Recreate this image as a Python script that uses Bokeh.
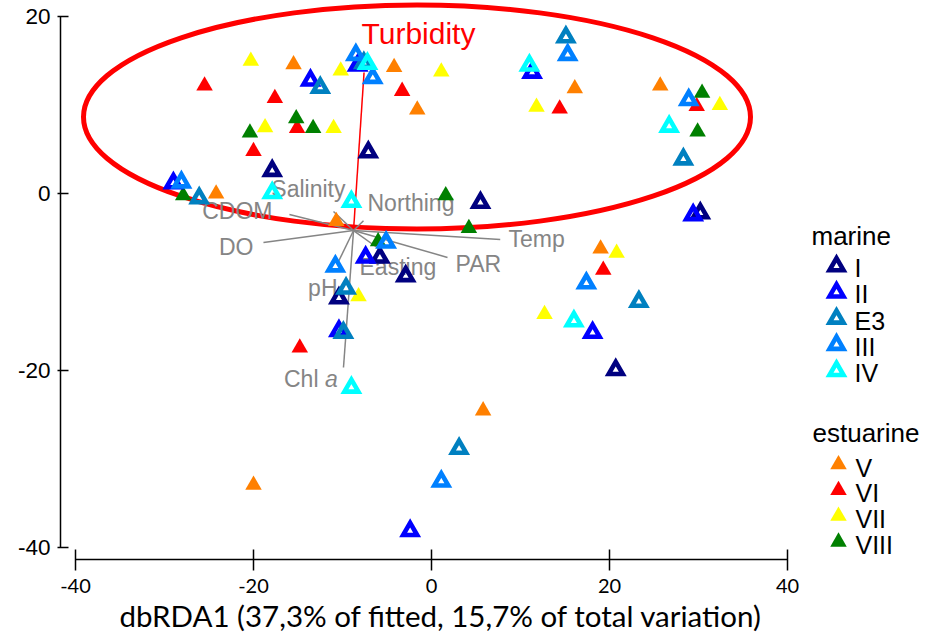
from bokeh.plotting import figure
from bokeh.models import FixedTicker, Range1d, Title
from bokeh.embed import file_html
from bokeh.resources import INLINE
from bokeh.core.properties import value

# ---------------- data: dbRDA1 / dbRDA2 scores ----------------
marine_names = ["I", "II", "E3", "III", "IV"]
estuarine_names = ["V", "VI", "VII", "VIII"]

I_x = [-17.9, -7.1, 5.5, -5.8, -2.9, -10.4, 30.2, 20.7]
I_y = [2.6, 4.7, -1.0, -7.2, -9.3, -11.8, -2.2, -19.9]
II_x = [-29.0, -13.6, -8.3, 11.3, -7.4, -10.4, 29.4, 18.1, -2.4]
II_y = [1.2, 12.8, 14.5, 13.7, -7.2, -15.5, -2.4, -15.7, -38.1]
E3_x = [-26.1, -12.5, -7.6, 15.1, 28.3, -9.6, -9.9, 23.3, 3.1]
E3_y = [-0.5, 12.0, 14.8, 17.7, 3.9, -10.7, -15.7, -12.2, -28.8]
III_x = [-28.1, -8.5, -6.6, 15.3, 28.9, -5.1, -10.8, 17.4, 1.1]
III_y = [1.3, 15.7, 13.1, 15.7, 10.6, -5.5, -8.2, -10.1, -32.5]
IV_x = [-17.9, -7.2, 11.0, 26.7, -9.0, 16.0, -9.0]
IV_y = [0.1, 14.7, 14.5, 7.6, -0.9, -14.4, -21.9]

V_x = [-24.2, -15.5, -4.2, -1.6, 16.1, 25.7, -10.7, 19.0, 5.8, -20.0]
V_y = [0.0, 14.6, 14.3, 9.5, 11.9, 12.2, -3.1, -6.2, -24.5, -32.9]
VI_x = [-25.5, -17.6, -15.1, -20.0, -3.3, 14.4, 29.8, 19.3, -14.8]
VI_y = [12.2, 10.8, 7.4, 4.8, 11.6, 9.6, 9.9, -8.6, -17.4]
VII_x = [-20.3, -18.7, -11.0, -10.2, 1.1, 11.8, 32.4, 20.8, 12.7, -8.2]
VII_y = [15.0, 7.5, 7.4, 13.9, 13.8, 9.8, 10.0, -6.7, -13.6, -11.6]
VIII_x = [-27.9, -20.4, -15.2, -13.3, 1.6, 4.2, -6.0, 30.4, 29.9]
VIII_y = [-0.2, 6.9, 8.5, 7.4, -0.2, -3.9, -5.4, 11.4, 7.0]

# environmental vectors (origin and tips, plot units)
vec_origin = (-8.76, -4.15)
vec_names = ["Turbidity", "Salinity", "Northing", "CDOM", "DO", "Temp", "PAR", "Easting", "pH", "Chl a"]
vec_x = [-7.58, -11.01, -7.64, -15.96, -18.88, 7.72, 1.80, -5.96, -10.56, -9.89]
vec_y = [13.71, -2.00, -3.04, -2.34, -5.50, -5.16, -7.19, -6.18, -7.88, -19.63]

x_ticks = [-40, -20, 0, 20, 40]
x_tick_labels = ["-40", "-20", "0", "20", "40"]
y_ticks = [-40, -20, 0, 20]
y_tick_labels = ["-40", "-20", "0", "20"]
x_title = "dbRDA1 (37,3% of fitted, 15,7% of total variation)"

# ---------------- styles ----------------
marine_colors = ["#000080", "#0000FF", "#0080C0", "#0080FF", "#00FFFF"]
estuarine_colors = ["#FF8000", "#FF0000", "#FFFF00", "#008000"]
marine_xy = [(I_x, I_y), (II_x, II_y), (E3_x, E3_y), (III_x, III_y), (IV_x, IV_y)]
estuarine_xy = [(V_x, V_y), (VI_x, VI_y), (VII_x, VII_y), (VIII_x, VIII_y)]

# pixel -> data helpers (pixel positions of the layout)
X0, SX, Y0, SY = 431.0, 8.9, 193.3, 8.85
def dx(px):
    return (px - X0) / SX
def dy(py):
    return (Y0 - py) / SY

p = figure(width=932, height=643,
           x_range=Range1d(dx(60), dx(932)), y_range=Range1d(dy(559), dy(0)),
           min_border_left=60, min_border_right=0, min_border_top=0, min_border_bottom=84,
           output_backend="svg", toolbar_location=None)
p.grid.visible = False
p.outline_line_color = None
p.background_fill_color = "white"
p.border_fill_color = "white"

# axes
xa = p.xaxis[0]
xa.ticker = FixedTicker(ticks=x_ticks)
xa.major_label_overrides = {t: s for t, s in zip(x_ticks, x_tick_labels)}
xa.bounds = (-40, 40)
xa.major_tick_in = 10
xa.major_tick_out = 11
xa.minor_tick_line_color = None
xa.axis_line_width = 1.5
xa.major_tick_line_width = 1.5
xa.axis_line_color = "black"
xa.major_tick_line_color = "black"
xa.major_label_text_font = "Lato"
xa.major_label_text_font_size = "20px"
xa.major_label_text_color = "black"
xa.major_label_standoff = 8

ya = p.yaxis[0]
ya.ticker = FixedTicker(ticks=y_ticks)
ya.major_label_overrides = {t: s for t, s in zip(y_ticks, y_tick_labels)}
ya.bounds = (-40, 20)
ya.major_tick_in = 8
ya.major_tick_out = 3
ya.minor_tick_line_color = None
ya.axis_line_width = 1.5
ya.major_tick_line_width = 1.5
ya.axis_line_color = "black"
ya.major_tick_line_color = "black"
ya.major_label_text_font = "Liberation Sans"
ya.major_label_text_font_size = "22.5px"
ya.major_label_text_color = "black"
ya.major_label_standoff = 7

# x-axis title, placed under the axis line (centred on the -40..40 span)
x_title_box = Title(text=x_title, align="left", offset=52, vertical_align="bottom", standoff=0,
                    text_font="Lato", text_font_size="29.5px", text_font_style="normal",
                    text_color="black")
try:
    x_title_box.padding = (7, 0, 0, 0)
except Exception:
    x_title_box.standoff = 8
p.add_layout(x_title_box, "below")

# Turbidity ellipse
p.ellipse(x=[dx(416.5)], y=[dy(116.5)], width=[667 / SX], height=[224 / SY],
          fill_color=None, line_color="#FF0000", line_width=5)

# vectors
ox, oy = vec_origin
gray = "#858585"
for name, vx, vy in zip(vec_names, vec_x, vec_y):
    col = "#FF0000" if name == "Turbidity" else gray
    p.segment(x0=[ox], y0=[oy], x1=[vx], y1=[vy], line_color=col, line_width=1.5)

lab_font = value("Liberation Sans")
right_labels = {"Salinity": (345, 188), "CDOM": (272, 210.5), "DO": (253, 246), "pH": (337, 287), "Chl": (318, 378)}
left_labels = {"Northing": (367, 202.5), "Temp": (508, 238.5), "PAR": (455, 263.5), "Easting": (359, 266.5)}
p.text(x=[dx(v[0]) for v in right_labels.values()], y=[dy(v[1]) for v in right_labels.values()],
       text=list(right_labels.keys()), text_font=lab_font, text_font_size=value("23px"),
       text_color=gray, text_align="right", text_baseline="middle")
p.text(x=[dx(v[0]) for v in left_labels.values()], y=[dy(v[1]) for v in left_labels.values()],
       text=list(left_labels.keys()), text_font=lab_font, text_font_size=value("23px"),
       text_color=gray, text_align="left", text_baseline="middle")
p.text(x=[dx(324.5)], y=[dy(378)], text=["a"], text_font=lab_font, text_font_size=value("23px"),
       text_font_style="italic", text_color=gray, text_align="left", text_baseline="middle")
p.text(x=[dx(361)], y=[dy(32.5)], text=["Turbidity"], text_font=lab_font, text_font_size=value("30px"),
       text_color="#FF0000", text_align="left", text_baseline="middle")

# points
for (xs, ys), c in zip(estuarine_xy, estuarine_colors):
    p.scatter(xs, ys, marker="triangle", size=16.5, fill_color=c, line_color=None)
for (xs, ys), c in zip(marine_xy, marine_colors):
    p.scatter(xs, ys, marker="triangle", size=14, fill_color=None, line_color=c,
              line_width=4.6, line_join="miter")

# legends
p.text(x=[dx(811)], y=[dy(235.7)], text=["marine"], text_font=lab_font, text_font_size=value("26px"),
       text_color="black", text_baseline="middle")
m_mid = [267.7 + 26.2 * i for i in range(len(marine_names))]
p.scatter([dx(836)] * len(marine_names), [dy(m - 2) for m in m_mid], marker="triangle", size=14,
          fill_color=None, line_color=marine_colors, line_width=4.6, line_join="miter")
p.text(x=[dx(854)] * len(marine_names), y=[dy(m) for m in m_mid], text=marine_names, text_font=lab_font,
       text_font_size=value("25px"), text_color="black", text_baseline="middle")

p.text(x=[dx(812)], y=[dy(432.4)], text=["estuarine"], text_font=lab_font, text_font_size=value("26px"),
       text_color="black", text_baseline="middle")
e_mid = [467 + 25.8 * i for i in range(len(estuarine_names))]
p.scatter([dx(838)] * len(estuarine_names), [dy(m - 3) for m in e_mid], marker="triangle", size=16.5,
          fill_color=estuarine_colors, line_color=None)
p.text(x=[dx(855)] * len(estuarine_names), y=[dy(m) for m in e_mid], text=estuarine_names, text_font=lab_font,
       text_font_size=value("25px"), text_color="black", text_baseline="middle")

open("out.html", "w").write(file_html(p, INLINE))
